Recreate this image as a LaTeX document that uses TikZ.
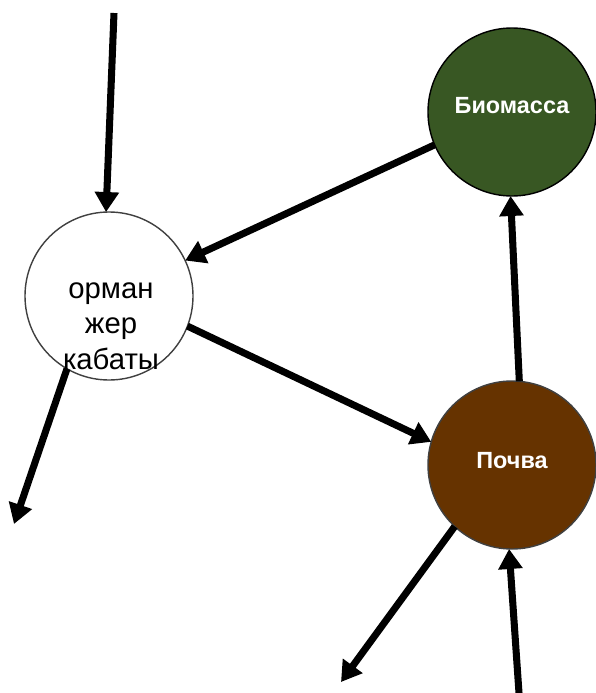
\documentclass[tikz,border=0pt]{standalone}
\usepackage{fontspec}
\setmainfont{Liberation Sans}
\usetikzlibrary{arrows.meta}
\definecolor{myblack}{HTML}{000000}
\definecolor{mygray}{HTML}{404040}
\definecolor{mygreen}{HTML}{385723}
\definecolor{mybrown}{HTML}{663300}

\begin{document}
\begin{tikzpicture}[x=0.03cm, y=-0.03cm,
  pool/.style={circle, minimum size=5.04cm, inner sep=0pt, outer sep=0pt, line width=1.2pt},
  poollabel/.style={text=white, font=\fontsize{20}{24}\selectfont\bfseries},
  flow/.style={myblack, line width=6pt, -{Triangle[length=0.6cm, width=0.7cm]}}]

\useasboundingbox (0,0) rectangle (596,693);

% POOLS
\node[pool, draw=mygray, fill=white] (forest) at (109,296) {};
\node[align=center, font=\fontsize{25}{30.5}\selectfont] (forestlbl) at (111,326) {орман\\жер\\кабаты};
\node[pool, draw=myblack, fill=mygreen] (bio) at (512,112) {};
\node[poollabel] (biolbl) at (512,106) {Биомасса};
\node[pool, draw=mygray, fill=mybrown] (soil) at (512,465) {};
\node[poollabel] (soillbl) at (512,461) {Почва};

% FREE ENDS
\coordinate (intop) at (114,13);
\coordinate (forestout) at (14,524);
\coordinate (soilout) at (341,682);
\coordinate (soilin) at (519,693);

% FLOWS
\draw[flow] (intop) -- (forest.92);
\draw[flow] (bio.203) -- (forest.25);
\draw[flow] (forest.-21) -- (soil.164);
\draw[flow] (soil.85) -- (bio.-91);
\draw[flow] (forest.-120) -- (forestout);
\draw[flow] (soil.-133) -- (soilout);
\draw[flow] (soilin) -- (soil.-92);

\end{tikzpicture}
\end{document}
